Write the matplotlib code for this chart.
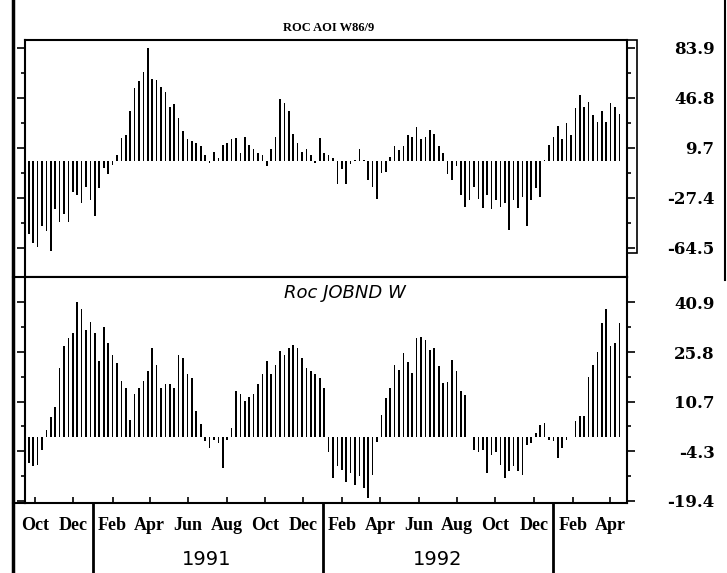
import matplotlib
matplotlib.use('Agg')
import matplotlib.pyplot as plt
from matplotlib.lines import Line2D
from matplotlib.patches import Rectangle
import numpy as np
import pandas as pd

# weekly rate of change
top_vals = [-54, -61, -64, -48, -52, -67, -36, -45, -39, -45,
            -23, -25, -31, -19, -29, -41, -20, -5, -10, -3,
            4.5, 17, 19, 37, 54, 59, 66, 84, 61, 60,
            55, 51, 40, 42, 32,
            22, 16, 15, 13, 11, 4.5, -1.7, 7, 2, 12,
            13, 16, 17, 6, 18, 12, 9, 6, 4.5, -3.7,
            9, 18, 46, 43, 37, 20, 13, 7, 9, 4.5,
            -1.2, 17, 6,
            4.5, 2, -17, -6, -17, -2, 1, 9, 1, -14,
            -19, -28, -9, -8, 3, 11, 8, 11, 19, 18,
            25, 16, 18, 23, 20, 11, 6, -10, -14, -4,
            -25, -34, -29, -19,
            -28, -35, -25, -36, -29, -34, -31, -51, -29, -35,
            -27, -48, -29, -20, -27, 1, 12, 18, 26, 16,
            28, 19, 39, 49, 40, 44, 34, 29, 37, 29,
            43, 40, 35]

bottom_vals = [-8, -9, -8.5, -4, 2, 6, 9, 21, 27.5, 30,
               31.5, 41, 39, 32.5, 35, 31.5, 23, 33.5, 28.5, 25,
               22.5, 17, 15, 5, 13, 15, 17, 20, 27, 22,
               15, 16, 16, 15, 25,
               24, 19, 18, 8, 4, -1.4, -3.4, -1, -2, -9.5,
               -1, 2.6, 14, 13, 11, 12, 13, 16, 19, 23,
               19, 22, 26, 25, 27, 28, 27, 24, 21, 20,
               19, 18, 15,
               -4.5, -12.6, -9, -10, -13.6, -11, -14.6, -12, -15.6, -18.6,
               -11.5, -1.5, 6.7, 11.8, 14.8, 21.9, 20.4, 25.4, 22.9, 19.3,
               30, 30.5, 29.5, 26.4, 27, 21.4, 16.3, 16.8, 23.4, 19.9,
               13.8, 12.8, 0, -4,
               -4.5, -4, -11, -5.5, -4.5, -8.5, -12.6, -10.5, -9, -10.5,
               -11.5, -2.4, -1.9, 1.1, 3.6, 4.3, -0.9, -1.4, -6.5, -3.4,
               -0.9, 0.1, 4.7, 6.2, 6.2, 18.3, 21.9, 25.9, 34.5, 39,
               27.5, 28.5, 34.5]

weeks = pd.date_range('1990-09-21', periods=len(top_vals), freq='7D')

top_ticks = [83.9, 46.8, 9.7, -27.4, -64.5]
bottom_ticks = [40.9, 25.8, 10.7, -4.3, -19.4]

month_starts = pd.date_range('1990-10-01', '1993-04-01', freq='2MS')
years = ['1991', '1992']
year_breaks = pd.to_datetime(['1991-01-01', '1992-01-01', '1993-01-01'])

W, H = 727, 573
fig = plt.figure(figsize=(W / 100, H / 100), dpi=100)


def box(l, t, r, b):
    return [l / W, 1 - b / H, (r - l) / W, (b - t) / H]


ax1 = fig.add_axes(box(25, 40, 627, 277))
ax2 = fig.add_axes(box(25, 277, 627, 503), sharex=ax1)

panels = [(ax1, top_vals, top_ticks, (-86.1, 89.8)),
          (ax2, bottom_vals, bottom_ticks, (-20.1, 48.6))]

for ax, vals, ticks, lim in panels:
    ax.bar(weeks, vals, width=2.6, color='black')
    ax.set_ylim(lim)
    ax.set_yticks(ticks)
    ax.set_yticklabels([f'{t:.1f}' for t in ticks])
    minor = (np.array(ticks[:-1]) + np.array(ticks[1:])) / 2
    ax.set_yticks(minor, minor=True)
    ax.tick_params(axis='y', which='both', left=True, right=True,
                   labelleft=False, labelright=True, direction='out', width=1.2)
    ax.tick_params(axis='y', which='major', length=6, pad=57, labelsize=12)
    ax.tick_params(axis='y', which='minor', length=3)
    plt.setp(ax.yaxis.get_majorticklabels(), ha='right',
             family='DejaVu Serif', weight='bold')
    for s in ax.spines.values():
        s.set_linewidth(1.5)

ax1.set_xlim(pd.Timestamp('1990-09-15'), pd.Timestamp('1993-04-28'))
ax1.tick_params(axis='x', which='both', bottom=False, labelbottom=False)

ax2.set_xticks(month_starts)
ax2.set_xticklabels([d.strftime('%b') for d in month_starts])
ax2.tick_params(axis='x', direction='in', length=4, width=1.2, pad=10)
plt.setp(ax2.get_xticklabels(), family='Liberation Serif', weight='bold', fontsize=13)

# year separators and year names under the month row
ax2.vlines(year_breaks, -0.31, 0, transform=ax2.get_xaxis_transform(),
           clip_on=False, lw=2, color='black')
for y in years:
    ax2.text(pd.Timestamp(y + '-07-01'), -0.252, y, transform=ax2.get_xaxis_transform(),
             ha='center', va='center', fontsize=14)

fig.text(329 / W, 1 - 28 / H, 'ROC AOI W86/9', ha='center', va='center',
         fontsize=9, family='Liberation Serif', weight='bold')
fig.text(345 / W, 1 - 293 / H, 'Roc JOBND W', ha='center', va='center',
         fontsize=13, style='italic')

# page frame pieces from the scan
fig.add_artist(Line2D([13 / W, 13 / W], [0, 1], lw=2.5, color='black'))
fig.add_artist(Line2D([13 / W, 25 / W], [1 - 277 / H] * 2, lw=1.5, color='black'))
fig.add_artist(Line2D([13 / W, 25 / W], [1 - 503 / H] * 2, lw=1.5, color='black'))
fig.add_artist(Line2D([725 / W, 725 / W], [1 - 280 / H, 1], lw=1.5, color='black'))
fig.add_artist(Rectangle((627 / W, 1 - 253 / H), 10 / W, 213 / H, fill=False,
                         lw=1.2, color='black', transform=fig.transFigure))

fig.savefig('out.png', dpi=100)
